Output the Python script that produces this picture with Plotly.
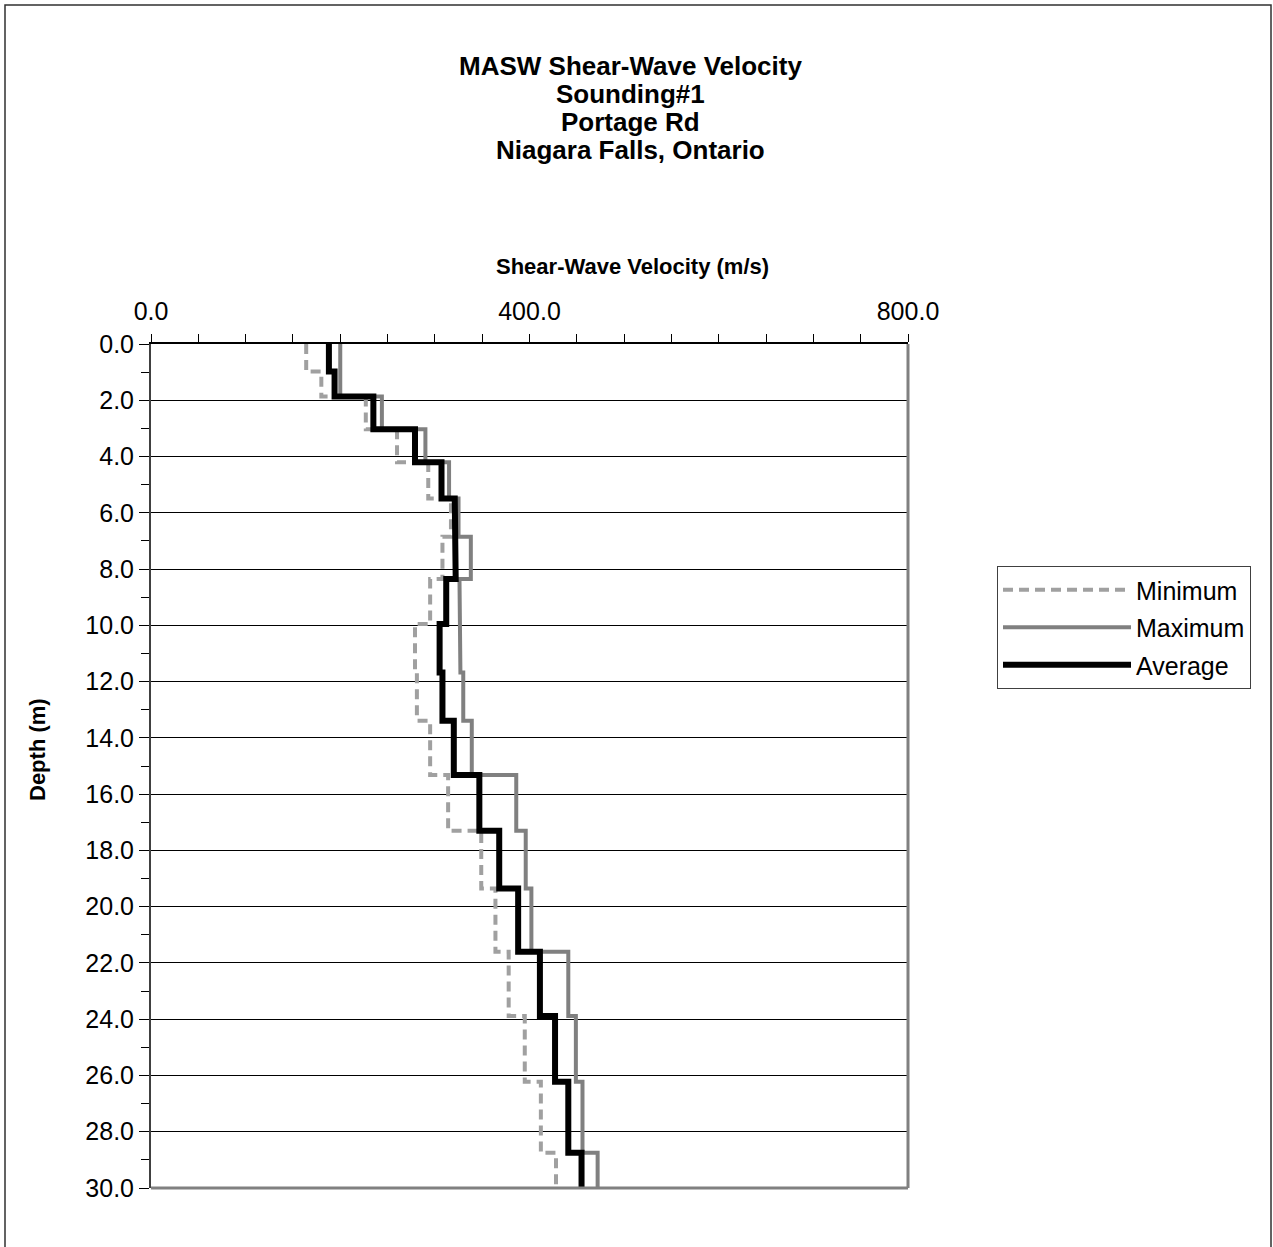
import plotly.graph_objects as go

# Layer boundaries (depth, m)
layer_tops = [0.0, 0.98, 1.87, 3.03, 4.2, 5.49, 6.85, 8.35, 9.95, 11.68, 13.39,
              15.32, 17.3, 19.35, 21.6, 23.89, 26.22, 28.75]
layer_bottoms = layer_tops[1:] + [30.0]

# Shear-wave velocity per layer (m/s)
vs_min = [164, 180, 227, 260, 293, 317, 308, 295, 279, 281, 295, 314, 349, 364, 378, 395, 412, 428]
vs_max = [200, 200, 244, 290, 315, 325, 338, 326, 327, 330, 339, 386, 396, 402, 441, 449, 456, 472]
vs_avg = [188, 194, 235, 279, 307, 321, 322, 312, 305, 308, 320, 347, 368, 388, 411, 427, 441, 455]

title_lines = ["MASW Shear-Wave Velocity", "Sounding#1", "Portage Rd", "Niagara Falls, Ontario"]


def step_xy(vals):
    xs, ys = [], []
    for v, t, b in zip(vals, layer_tops, layer_bottoms):
        xs += [v, v]
        ys += [t, b]
    return xs, ys


W, H = 1273, 1247
L, R, T, B = 151, 908, 344, 1188
FONT = "Liberation Sans, Arial, sans-serif"


def px2x(px):
    return (px - L) / (R - L)


def px2y(py):
    return (B - py) / (B - T)


fig = go.Figure()
series = [
    ("Minimum", vs_min, dict(color="#a0a0a0", width=4, dash="10px,6px")),
    ("Maximum", vs_max, dict(color="#808080", width=4)),
    ("Average", vs_avg, dict(color="#000000", width=6)),
]
for name, vals, line in series:
    xs, ys = step_xy(vals)
    fig.add_trace(go.Scatter(x=xs, y=ys, mode="lines", name=name, line=line,
                             legendgroup=name))

fig.update_layout(
    width=W, height=H,
    margin=dict(l=L, r=W - R, t=T, b=H - B, pad=0),
    paper_bgcolor="white", plot_bgcolor="white",
    font=dict(family=FONT, color="black"),
    showlegend=True,
    legend=dict(
        x=px2x(997), y=px2y(566), xanchor="left", yanchor="top",
        bordercolor="#404040", borderwidth=1,
        font=dict(size=25, family=FONT),
        itemwidth=128, tracegroupgap=2,
        bgcolor="white",
    ),
    xaxis=dict(
        side="top", range=[0, 800], dtick=400, tick0=0, tickformat=".1f",
        showgrid=False, zeroline=False,
        showline=True, linecolor="black", linewidth=2,
        ticks="outside", ticklen=8, tickcolor="black", tickwidth=1,
        ticklabelstandoff=4,
        minor=dict(dtick=50, ticks="outside", ticklen=8, tickcolor="black", showgrid=False),
        tickfont=dict(size=25, family=FONT),
        title=dict(text=""),
        fixedrange=True,
    ),
    yaxis=dict(
        range=[30, 0], dtick=2, tick0=0, tickformat=".1f",
        showgrid=True, gridcolor="black", gridwidth=1,
        zeroline=False,
        showline=True, linecolor="#404040", linewidth=2,
        ticks="outside", ticklen=10, tickcolor="black", tickwidth=1,
        minor=dict(dtick=1, ticks="outside", ticklen=8, tickcolor="black", showgrid=False),
        tickfont=dict(size=25, family=FONT),
        title=dict(text=""),
        fixedrange=True,
    ),
)

# Title lines
for i, line in enumerate(title_lines):
    fig.add_annotation(text=f"<b>{line}</b>", xref="paper", yref="paper",
                       x=px2x(630), y=px2y(66 + 28 * i), xanchor="center", yanchor="middle",
                       showarrow=False, font=dict(size=26, family=FONT, color="black"))

# X axis title
fig.add_annotation(text="<b>Shear-Wave Velocity (m/s)</b>", xref="paper", yref="paper",
                   x=px2x(632), y=px2y(266), xanchor="center", yanchor="middle",
                   showarrow=False, font=dict(size=22, family=FONT, color="black"))

# Y axis title
fig.add_annotation(text="<b>Depth (m)</b>", xref="paper", yref="paper",
                   x=px2x(37), y=px2y(750), xanchor="center", yanchor="middle",
                   textangle=-90, showarrow=False, font=dict(size=22, family=FONT, color="black"))

# Plot area right and bottom border (gray)
fig.add_shape(type="line", xref="paper", yref="paper", x0=1, x1=1, y0=0, y1=1,
              line=dict(color="#808080", width=3))
fig.add_shape(type="line", xref="paper", yref="paper", x0=0, x1=1, y0=0, y1=0,
              line=dict(color="#808080", width=3))

# Outer chart frame
fig.add_shape(type="rect", xref="paper", yref="paper",
              x0=px2x(5), x1=px2x(1271), y0=px2y(1252), y1=px2y(5),
              line=dict(color="#303030", width=1.5), fillcolor="rgba(0,0,0,0)", layer="below")

fig.write_html("out.html")
